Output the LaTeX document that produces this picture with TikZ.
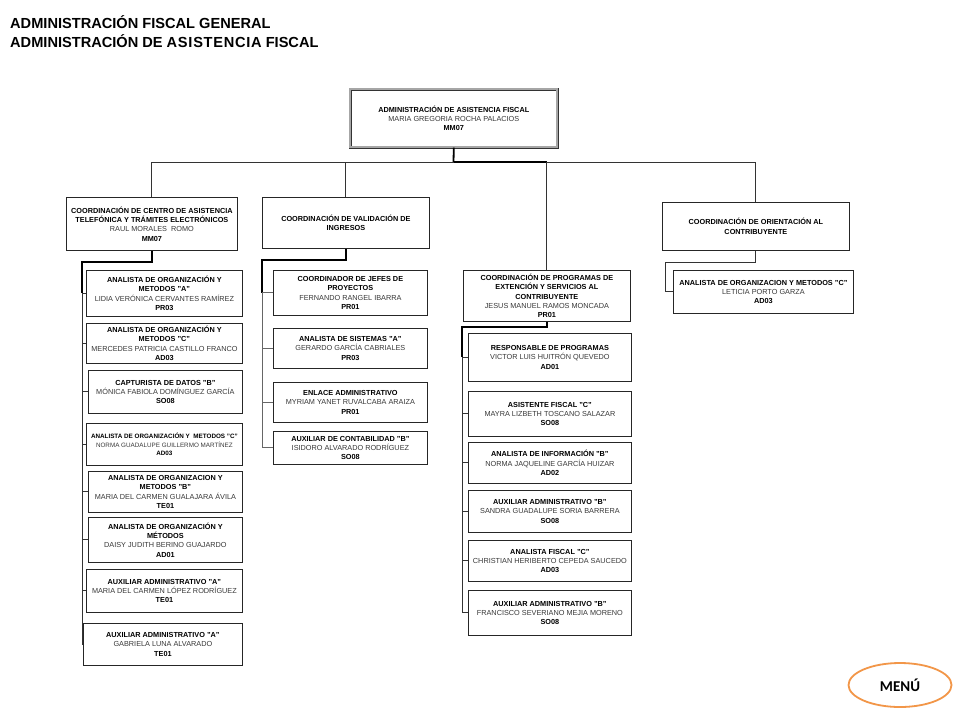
\documentclass[tikz,border=0pt]{standalone}
\usepackage{fontspec}
\usetikzlibrary{shapes.geometric}
\setmainfont{Liberation Sans}
\newfontfamily\menufont{Carlito}
\definecolor{menuorange}{RGB}{242,150,72}
\begin{document}
\begin{tikzpicture}[x=1pt,y=-1pt,
  box/.style={draw=black!85, line width=0.8pt, fill=white, align=center, inner sep=0pt,
    font=\fontsize{7.3}{9.4}\selectfont, text=black!78, anchor=north west},
  smallbox/.style={font=\fontsize{6.3}{8.6}\selectfont},
  rootbox/.style={draw=black!80, double=black!35, double distance=2pt, line width=0.6pt},
  conn/.style={line width=0.9pt, draw=black!80},
  lead/.style={line width=1.8pt, draw=black},
  title/.style={anchor=west, inner sep=0pt, font=\bfseries\fontsize{14.6}{16}\selectfont},
  menu/.style={draw=menuorange, line width=1.8pt, ellipse, minimum width=103pt, minimum height=44pt, font=\menufont\bfseries\fontsize{15}{17}\selectfont}
]
\newcommand{\tb}[1]{\textbf{\color{black}#1}}
\newcommand{\obox}[7]{\node[box,#6, minimum width={(#4-#2)*1pt}, minimum height={(#5-#3)*1pt}] (#1) at (#2,#3) {#7};}
\useasboundingbox[fill=white] (0,0) rectangle (960,720);

% header
\node[title] (h1) at (10,22) {ADMINISTRACIÓN FISCAL GENERAL};
\node[title] (h2) at (10,41) {ADMINISTRACIÓN DE {\addfontfeatures{LetterSpace=5}ASISTENCIA} FISCAL};

% root
\obox{root}{350}{89}{557}{147}{rootbox}{\tb{ADMINISTRACIÓN DE ASISTENCIA FISCAL}\\MARIA GREGORIA ROCHA PALACIOS\\\tb{MM07}}

% coordinations
\obox{LC}{66}{197}{237}{250}{}{\tb{COORDINACIÓN DE CENTRO DE ASISTENCIA}\\\tb{TELEFÓNICA Y TRÁMITES ELECTRÓNICOS}\\RAUL MORALES\ \ ROMO\\\tb{MM07}}
\obox{MC}{262}{197}{429}{248}{}{\tb{COORDINACIÓN DE VALIDACIÓN DE}\\\tb{INGRESOS}}
\obox{PC}{463}{270}{630}{321}{}{\tb{COORDINACIÓN DE PROGRAMAS DE}\\\tb{EXTENCIÓN Y SERVICIOS AL}\\\tb{CONTRIBUYENTE}\\JESUS MANUEL RAMOS MONCADA\\\tb{PR01}}
\obox{RC}{662}{202}{849}{250}{}{\tb{COORDINACIÓN DE ORIENTACIÓN AL}\\\tb{CONTRIBUYENTE}}

% right column
\obox{R1}{673}{270}{853}{313}{}{\tb{ANALISTA DE ORGANIZACION Y METODOS "C"}\\LETICIA PORTO GARZA\\\tb{AD03}}

% left column
\obox{L1}{86}{270}{242}{316}{}{\tb{ANALISTA DE ORGANIZACIÓN Y}\\\tb{METODOS "A"}\\LIDIA VERÓNICA CERVANTES RAMÍREZ\\\tb{PR03}}
\obox{L2}{86}{323}{242}{363}{}{\tb{ANALISTA DE ORGANIZACIÓN Y}\\\tb{METODOS "C"}\\MERCEDES PATRICIA CASTILLO FRANCO\\\tb{AD03}}
\obox{L3}{88}{370}{242}{413}{}{\tb{CAPTURISTA DE DATOS "B"}\\MÓNICA FABIOLA DOMÍNGUEZ GARCÍA\\\tb{SO08}}
\obox{L4}{86}{423}{242}{465}{smallbox}{\tb{ANALISTA DE ORGANIZACIÓN Y\ \ METODOS "C"}\\NORMA GUADALUPE GUILLERMO MARTÍNEZ\\\tb{AD03}}
\obox{L5}{88}{471}{242}{512}{}{\tb{ANALISTA DE ORGANIZACION Y}\\\tb{METODOS "B"}\\MARIA DEL CARMEN GUALAJARA ÁVILA\\\tb{TE01}}
\obox{L6}{88}{517}{242}{562}{}{\tb{ANALISTA DE ORGANIZACIÓN Y}\\\tb{MÉTODOS}\\DAISY JUDITH BERINO GUAJARDO\\\tb{AD01}}
\obox{L7}{86}{569}{242}{612}{}{\tb{AUXILIAR ADMINISTRATIVO "A"}\\MARIA DEL CARMEN LÓPEZ RODRÍGUEZ\\\tb{TE01}}
\obox{L8}{83}{623}{242}{665}{}{\tb{AUXILIAR ADMINISTRATIVO "A"}\\GABRIELA LUNA ALVARADO\\\tb{TE01}}

% middle column
\obox{M1}{273}{270}{427}{315}{}{\tb{COORDINADOR DE JEFES DE}\\\tb{PROYECTOS}\\FERNANDO RANGEL IBARRA\\\tb{PR01}}
\obox{M2}{273}{328}{427}{368}{}{\tb{ANALISTA DE SISTEMAS "A"}\\GERARDO GARCÍA CABRIALES\\\tb{PR03}}
\obox{M3}{273}{382}{427}{422}{}{\tb{ENLACE ADMINISTRATIVO}\\MYRIAM YANET RUVALCABA ARAIZA\\\tb{PR01}}
\obox{M4}{273}{431}{427}{464}{}{\tb{AUXILIAR DE CONTABILIDAD "B"}\\ISIDORO ALVARADO RODRÍGUEZ\\\tb{SO08}}

% programas column
\obox{P1}{468}{333}{631}{381}{}{\tb{RESPONSABLE DE PROGRAMAS}\\VICTOR LUIS HUITRÓN QUEVEDO\\\tb{AD01}}
\obox{P2}{468}{391}{631}{436}{}{\tb{ASISTENTE FISCAL "C"}\\MAYRA LIZBETH TOSCANO SALAZAR\\\tb{SO08}}
\obox{P3}{468}{442}{631}{483}{}{\tb{ANALISTA DE INFORMACIÓN "B"}\\NORMA JAQUELINE GARCÍA HUIZAR\\\tb{AD02}}
\obox{P4}{468}{490}{631}{532}{}{\tb{AUXILIAR ADMINISTRATIVO "B"}\\SANDRA GUADALUPE SORIA BARRERA\\\tb{SO08}}
\obox{P5}{468}{540}{631}{581}{}{\tb{ANALISTA FISCAL "C"}\\CHRISTIAN HERIBERTO CEPEDA SAUCEDO\\\tb{AD03}}
\obox{P6}{468}{590}{631}{635}{}{\tb{AUXILIAR ADMINISTRATIVO "B"}\\FRANCISCO SEVERIANO MEJIA MORENO\\\tb{SO08}}

% menu
\node[menu] (menu) at (900,685) {MENÚ};

% connectors: top level
\coordinate (bar) at (453.5,162);
\draw[lead] (root.south) -- (bar);
\draw[conn] (LC.north |- bar) -- (RC.north |- bar);
\draw[lead] (bar) -- (PC.north |- bar);
\draw[conn] (LC.north |- bar) -- (LC.north);
\draw[conn] (MC.north |- bar) -- (MC.north);
\draw[conn] (PC.north |- bar) -- (PC.north);
\draw[conn] (RC.north |- bar) -- (RC.north);

% left column connectors
\coordinate (lsp) at (82,262);
\draw[lead] (LC.south) |- (lsp) -- (lsp |- L1.west);
\draw[conn] (lsp |- L1.west) -- (lsp |- L8.west);
\foreach \n in {L1,L2,L3,L4,L5,L6,L7,L8} \draw[conn] (lsp |- \n.west) -- (\n.west);

% middle column connectors
\coordinate (msp) at (262,260);
\draw[lead] (MC.south) |- (msp) -- (msp |- M1.west);
\draw[conn,draw=black!60] (msp |- M1.west) -- (msp |- M4.west);
\foreach \n in {M1,M2,M3,M4} \draw[conn,draw=black!60] (msp |- \n.west) -- (\n.west);

% programas column connectors
\coordinate (psp) at (462,327);
\draw[lead] (PC.south) |- (psp) -- (psp |- P1.west);
\draw[conn] (psp |- P1.west) -- (psp |- P6.west);
\foreach \n in {P1,P2,P3,P4,P5,P6} \draw[conn] (psp |- \n.west) -- (\n.west);

% right column connectors
\coordinate (rsp) at (665,262);
\draw[conn] (RC.south) |- (rsp) |- (R1.west);
\end{tikzpicture}
\end{document}
